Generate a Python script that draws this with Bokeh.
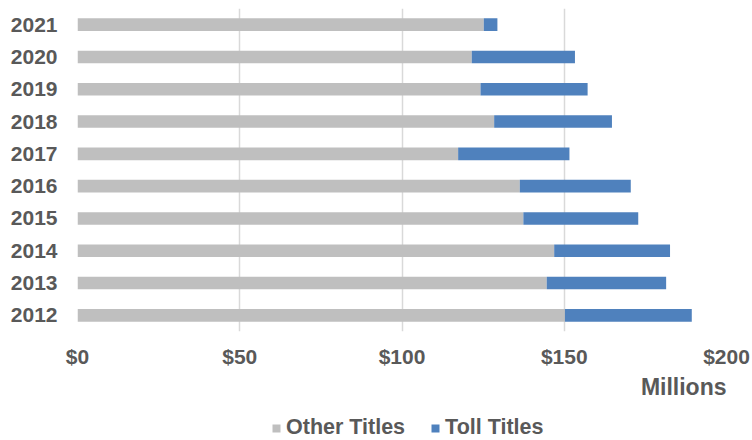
from bokeh.plotting import figure
from bokeh.layouts import column
from bokeh.models import (ColumnDataSource, FactorRange, Range1d, FixedTicker,
                          Legend, LegendItem, Title)
from bokeh.embed import file_html
from bokeh.resources import INLINE

years = ["2012", "2013", "2014", "2015", "2016", "2017", "2018", "2019", "2020", "2021"]
other_titles = [150.2, 144.6, 146.9, 137.4, 136.3, 117.3, 128.4, 124.2, 121.5, 125.2]
toll_titles = [39.1, 36.8, 35.7, 35.4, 34.2, 34.3, 36.3, 33.0, 31.8, 4.2]
tick_values = [0, 50, 100, 150, 200]
tick_labels = ["$0", "$50", "$100", "$150", "$200"]
series_names = ["Other Titles", "Toll Titles"]
unit_label = "Millions"
colors = ["#bfbfbf", "#4f81bd"]

TXT = "#595959"
FONT = "Liberation Sans"

source = ColumnDataSource(dict(year=years, other=other_titles, toll=toll_titles))

p = figure(width=752, height=404, output_backend="svg", toolbar_location=None,
           y_range=FactorRange(factors=years, range_padding=0),
           x_range=Range1d(0, 200),
           min_border_left=77, min_border_right=26, min_border_top=8,
           min_border_bottom=73)
p.outline_line_color = None

renderers = p.hbar_stack(["other", "toll"], y="year", height=0.39, color=colors,
                         line_color=None, source=source)

p.xaxis.ticker = FixedTicker(ticks=tick_values)
p.xaxis.major_label_overrides = {v: l for v, l in zip(tick_values, tick_labels)}
for ax in (p.xaxis[0], p.yaxis[0]):
    ax.axis_line_color = None
    ax.major_tick_line_color = None
    ax.minor_tick_line_color = None
    ax.major_tick_out = 0
    ax.major_tick_in = 0
    ax.major_label_text_font = FONT
    ax.major_label_text_font_style = "bold"
    ax.major_label_text_font_size = "21px"
    ax.major_label_text_color = TXT
p.xaxis.major_label_standoff = 13
p.yaxis.major_label_standoff = 20

p.ygrid.grid_line_color = None
p.xgrid.ticker = FixedTicker(ticks=tick_values)
p.xgrid.grid_line_color = "#d9d9d9"
p.xgrid.grid_line_width = 1.5

p.add_layout(Title(text=unit_label, align="right", text_font=FONT, text_font_style="bold",
                   text_font_size="23px", text_color=TXT, standoff=3, offset=0), "below")

# legend strip (legend proxies are hidden copies of the same stacked bars)
p2 = figure(width=752, height=36, output_backend="svg", toolbar_location=None,
            y_range=FactorRange(factors=years),
            x_axis_location=None, y_axis_location=None,
            min_border_left=0, min_border_right=0, min_border_top=0, min_border_bottom=0)
p2.outline_line_color = None
p2.xgrid.grid_line_color = None
p2.ygrid.grid_line_color = None
proxies = p2.hbar_stack(["other", "toll"], y="year", height=0.39, color=colors,
                        line_color=None, source=source)
for r in proxies:
    r.visible = False
legend = Legend(items=[LegendItem(label=n, renderers=[r]) for n, r in zip(series_names, proxies)],
                orientation="horizontal", location=(194, 0), click_policy="none",
                label_text_font=FONT, label_text_font_style="bold",
                label_text_font_size="21.5px", label_text_color=TXT,
                glyph_width=10, glyph_height=10, label_standoff=5, spacing=25,
                padding=0, margin=0, border_line_color=None, background_fill_alpha=0)
p2.add_layout(legend, "center")

layout = column(p, p2, spacing=0)
open("out.html", "w").write(file_html(layout, INLINE))
